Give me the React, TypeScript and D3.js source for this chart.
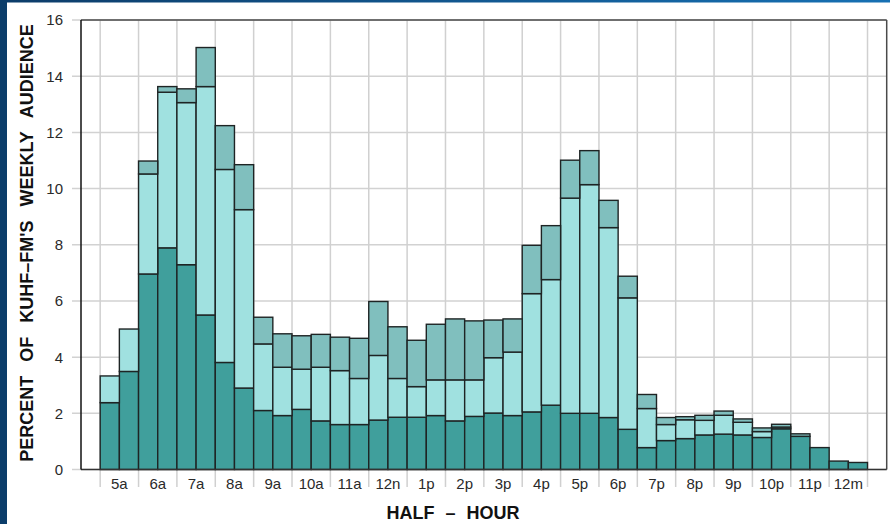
import React from "react";
import * as d3 from "d3";

// Half-hour slots (start hour, 5 = 5:00a ... 24.5 = 12:30a)
const hourLabels = ["5a","6a","7a","8a","9a","10a","11a","12n","1p","2p","3p","4p","5p","6p","7p","8p","9p","10p","11p","12m"];
const yTicks = [0, 2, 4, 6, 8, 10, 12, 14, 16];

// Stacked segments per half-hour (percent of weekly audience)
const darkSeg = [2.38,3.49,6.96,7.89,7.29,5.50,3.81,2.90,2.10,1.92,2.14,1.73,1.60,1.60,1.76,1.86,1.86,1.92,1.73,1.89,2.01,1.92,2.05,2.29,2.00,2.00,1.85,1.43,0.78,1.03,1.10,1.23,1.26,1.23,1.14,1.45,1.18,0.78,0.30,0.25];
const lightSeg = [0.95,1.51,3.56,5.54,5.77,8.13,6.87,6.35,2.37,1.72,1.43,1.91,1.92,1.64,2.30,1.38,1.09,1.27,1.46,1.30,1.97,2.26,4.21,4.47,7.66,8.14,6.76,4.68,1.39,0.57,0.67,0.52,0.67,0.45,0.21,0.06,0.00,0.00,0.00,0.00];
const midSeg = [0,0,0.46,0.20,0.49,1.39,1.56,1.60,0.95,1.19,1.19,1.17,1.19,1.43,1.92,1.84,1.65,1.98,2.17,2.10,1.34,1.18,1.72,1.92,1.35,1.21,0.97,0.77,0.50,0.25,0.11,0.18,0.15,0.12,0.13,0.10,0.09,0,0,0];

const seriesKeys = ["dark", "light", "mid"];
const seriesColors = ["#409f9c", "#a0e1e0", "#80bfbe"];

export default function App() {
  const W = 890, H = 524;
  const left = 81, right = 886.7, top = 20, bottom = 469.5;

  const rows = darkSeg.map((d, i) => ({ slot: 5 + i * 0.5, dark: d, light: lightSeg[i], mid: midSeg[i] }));
  const stacked = d3.stack<any>().keys(seriesKeys)(rows);

  const x = d3.scaleLinear().domain([4.5, 25.5]).range([left, right]);
  const y = d3.scaleLinear().domain([0, 16]).range([bottom, top]);
  const hours = d3.range(5, 26);

  const font = "'Liberation Sans', Arial, sans-serif";

  return (
    <svg width={W} height={H} style={{ position: "absolute", left: 0, top: 0 }}>
      <defs>
        <linearGradient id="topband" x1="0" x2="1" y1="0" y2="0">
          <stop offset="0" stopColor="#0c3c69" />
          <stop offset="1" stopColor="#1670b3" />
        </linearGradient>
      </defs>
      <rect x={0} y={0} width={W} height={H} fill="#ffffff" />
      <rect x={0} y={0} width={W} height={2.5} fill="url(#topband)" />
      <rect x={0} y={0} width={7} height={H} fill="#0b3d6a" />

      {/* horizontal grid */}
      {yTicks.map((t) => (
        <line key={"h" + t} x1={72} x2={right} y1={y(t)} y2={y(t)} stroke="#d2d2d2" strokeWidth={1.5} />
      ))}
      {/* vertical grid + ticks */}
      {hours.map((h) => (
        <line key={"v" + h} x1={x(h)} x2={x(h)} y1={top} y2={487} stroke="#d0d0d0" strokeWidth={1.5} />
      ))}

      {/* bars */}
      {stacked.map((s, si) => (
        <g key={seriesKeys[si]}>
          {s.map((d, i) =>
            d[1] - d[0] > 0.001 ? (
              <rect
                key={i}
                x={x(rows[i].slot)}
                width={x(rows[i].slot + 0.5) - x(rows[i].slot)}
                y={y(d[1])}
                height={y(d[0]) - y(d[1])}
                fill={seriesColors[si]}
                stroke="#1e2424"
                strokeWidth={1.4}
              />
            ) : null
          )}
        </g>
      ))}

      {/* frame */}
      <line x1={left} x2={right} y1={top} y2={top} stroke="#4a4a4a" strokeWidth={1.5} />
      <line x1={right} x2={right} y1={top} y2={bottom} stroke="#4a4a4a" strokeWidth={1.5} />
      <line x1={left} x2={right} y1={bottom} y2={bottom} stroke="#333" strokeWidth={1.5} />
      <line x1={left} x2={left} y1={top} y2={bottom} stroke="#111" strokeWidth={1.5} />

      {/* y tick labels */}
      {yTicks.map((t) => (
        <text key={"yl" + t} x={63} y={y(t)} dy="0.36em" textAnchor="end" fontFamily={font} fontSize={15} fill="#2a2a2a">
          {t}
        </text>
      ))}
      {/* x tick labels */}
      {hourLabels.map((l, i) => (
        <text key={"xl" + l} x={x(5 + i + 0.5)} y={488.5} textAnchor="middle" fontFamily={font} fontSize={15} fill="#2a2a2a">
          {l}
        </text>
      ))}

      {/* axis titles */}
      <text
        transform={`translate(33, 243) rotate(-90)`}
        textAnchor="middle"
        fontFamily={font}
        fontWeight="bold"
        fontSize={18}
        wordSpacing={9}
        fill="#111"
      >
        PERCENT OF KUHF–FM'S WEEKLY AUDIENCE
      </text>
      <text x={453} y={519} textAnchor="middle" fontFamily={font} fontWeight="bold" fontSize={18} wordSpacing={6} fill="#111">
        HALF – HOUR
      </text>
    </svg>
  );
}
